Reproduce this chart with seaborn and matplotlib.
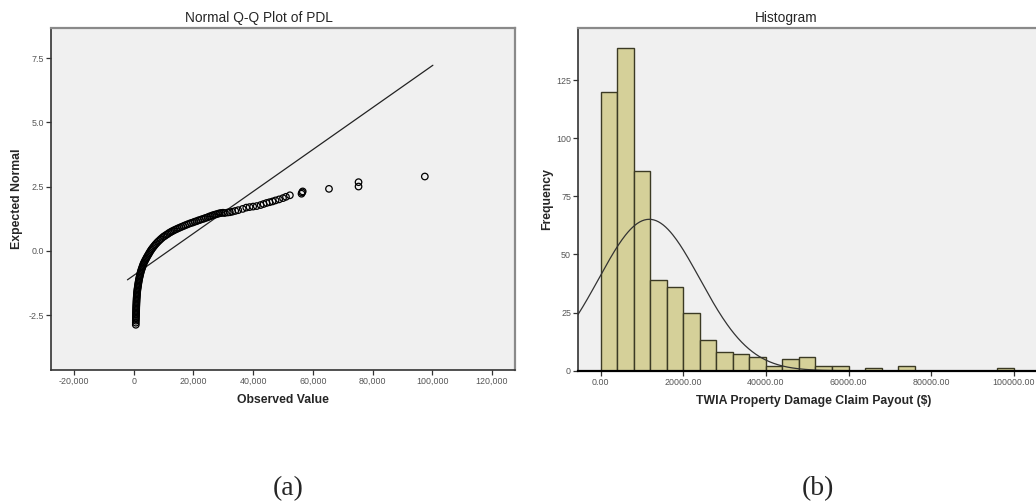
import numpy as np
import pandas as pd
import matplotlib
matplotlib.use("Agg")
import matplotlib.pyplot as plt
from matplotlib.ticker import FuncFormatter, FixedLocator
import seaborn as sns

# ---------------- data ----------------
# Q-Q plot: observed value vs expected normal value
qq_observed = [700, 710, 720, 730, 740, 750, 760, 780, 790, 800, 820, 830, 840, 860, 880,
               900, 920, 940, 960, 990, 1020, 1050, 1080, 1120, 1160, 1200, 1260, 1320,
               1380, 1450, 1510, 1580, 1650, 1730, 1810, 1900, 2000, 2100, 2200, 2300, 2420,
               2550, 2700, 2850, 3000, 3150, 3320, 3500, 3720, 3950, 4170, 4400, 4650, 4900,
               5150, 5400, 5680, 5950, 6270, 6600, 6950, 7300, 7700, 8100, 8550, 9000, 9500,
               10000, 10450, 10900, 11350, 11800, 12250, 12700, 13200, 13700, 14250, 14800,
               15400, 16000, 16600, 17200, 17850, 18500, 19150, 19800, 20400, 21000, 21600,
               22200, 22850, 23500, 24100, 24700, 25250, 25800, 26400, 27000, 27600, 28200,
               28750, 29300, 29900, 30500, 31500, 32200, 33000, 34000, 35000, 36500, 37700,
               38800, 40000, 41200, 42500, 43500, 44500, 45500, 46500, 47500, 48700, 50000,
               51000, 52300, 56200, 56400, 56600, 65400, 75300, 75300, 97500]
qq_expected = [-2.88, -2.80, -2.72, -2.66, -2.60, -2.55, -2.50, -2.45, -2.40, -2.35, -2.30,
               -2.25, -2.20, -2.15, -2.10, -2.05, -2.00, -1.95, -1.90, -1.85, -1.80, -1.75,
               -1.70, -1.65, -1.60, -1.55, -1.50, -1.45, -1.40, -1.35, -1.30, -1.25, -1.20,
               -1.15, -1.10, -1.05, -1.00, -0.95, -0.90, -0.85, -0.80, -0.75, -0.70, -0.65,
               -0.60, -0.55, -0.50, -0.45, -0.40, -0.35, -0.30, -0.25, -0.20, -0.15, -0.10,
               -0.05, 0.00, 0.05, 0.10, 0.15, 0.20, 0.25, 0.30, 0.35, 0.40, 0.45, 0.50, 0.55,
               0.58, 0.62, 0.65, 0.69, 0.72, 0.75, 0.78, 0.81, 0.84, 0.87, 0.90, 0.93, 0.96,
               0.99, 1.02, 1.05, 1.08, 1.10, 1.13, 1.15, 1.18, 1.20, 1.23, 1.25, 1.28, 1.30,
               1.33, 1.35, 1.38, 1.40, 1.42, 1.44, 1.46, 1.47, 1.48, 1.47, 1.49, 1.50, 1.52,
               1.55, 1.58, 1.63, 1.68, 1.70, 1.72, 1.74, 1.78, 1.82, 1.86, 1.89, 1.92, 1.96,
               2.00, 2.05, 2.10, 2.16, 2.22, 2.27, 2.31, 2.41, 2.50, 2.67, 2.89]
qq_line_x = [-2100, 100200]          # extent of the reference line
sample_mean = 11750                  # mean / sd of the payouts
sample_sd = 12250

# Histogram: bin left edges (width 4000) and frequencies
bin_width = 4000
bin_left = [0, 4000, 8000, 12000, 16000, 20000, 24000, 28000, 32000, 36000, 40000, 44000,
            48000, 52000, 56000, 60000, 64000, 68000, 72000, 76000, 80000, 84000, 88000,
            92000, 96000]
bin_count = [120, 139, 86, 39, 36, 25, 13, 8, 7, 6, 2, 5, 6, 2, 2, 0, 1, 0, 2, 0, 0, 0, 0, 0, 1]

qq_xticks = [-20000, 0, 20000, 40000, 60000, 80000, 100000, 120000]
qq_yticks = [-2.5, 0.0, 2.5, 5.0, 7.5]
hist_xticks = [0, 20000, 40000, 60000, 80000, 100000]
hist_yticks = [0, 25, 50, 75, 100, 125]

# ---------------- style ----------------
sns.set_theme(style="ticks")
plt.rcParams["font.family"] = ["Liberation Sans", "DejaVu Sans"]

W, H = 1036, 504
fig = plt.figure(figsize=(W / 100, H / 100), dpi=100)
fig.patch.set_facecolor("white")

bg = "#F0F0F0"
tick_kw = dict(labelsize=6.4, length=3.5, width=0.9, colors="#333333", pad=1.5)


def style_axes(ax):
    ax.set_facecolor(bg)
    for s in ["top", "right"]:
        ax.spines[s].set_color("#8a8a8a")
        ax.spines[s].set_linewidth(1.6)
    for s in ["left", "bottom"]:
        ax.spines[s].set_color("#333333")
        ax.spines[s].set_linewidth(1.2)
    ax.tick_params(axis="both", direction="out", **tick_kw)
    for lab in ax.get_xticklabels() + ax.get_yticklabels():
        lab.set_color("#555555")


# ---------------- (a) Q-Q plot ----------------
ax1 = fig.add_axes([51 / W, 1 - 370 / H, (515 - 51) / W, (370 - 28) / H])
qq_df = pd.DataFrame({"Observed": qq_observed, "Expected": qq_expected})
sns.scatterplot(data=qq_df, x="Observed", y="Expected", ax=ax1, marker="o", s=22,
                facecolors="none", edgecolors="black", linewidth=0.9, zorder=3)
lx = np.array(qq_line_x, dtype=float)
line_df = pd.DataFrame({"x": lx, "y": (lx - sample_mean) / sample_sd})
sns.lineplot(data=line_df, x="x", y="y", ax=ax1, color="#222222", linewidth=0.9, zorder=2)
ax1.set_xlim(-27700, 127700)
ax1.set_ylim(-4.64, 8.67)
ax1.xaxis.set_major_locator(FixedLocator(qq_xticks))
ax1.yaxis.set_major_locator(FixedLocator(qq_yticks))
ax1.xaxis.set_major_formatter(FuncFormatter(lambda v, p: f"{v:,.0f}"))
ax1.yaxis.set_major_formatter(FuncFormatter(lambda v, p: f"{v:.1f}"))
ax1.set_xlabel("Observed Value", fontsize=8.8, fontweight="bold", labelpad=6)
ax1.set_ylabel("Expected Normal", fontsize=8.8, fontweight="bold", labelpad=4)
style_axes(ax1)
fig.text(258.5 / W, 1 - 18 / H, "Normal Q-Q Plot of PDL", ha="center", va="center",
         fontsize=9.9)

# ---------------- (b) Histogram ----------------
x0_px, x1_px = 578, 1050
ax2 = fig.add_axes([x0_px / W, 1 - 370.7 / H, (x1_px - x0_px) / W, (370.7 - 28.3) / H])
hist_df = pd.DataFrame({"mid": [b + bin_width / 2 for b in bin_left], "count": bin_count})
edges = list(bin_left) + [bin_left[-1] + bin_width]
sns.histplot(data=hist_df, x="mid", weights="count", bins=edges, ax=ax2,
             color="#D5D099", edgecolor="#3b3a24", linewidth=1.0, alpha=1.0, zorder=2)
n_total = sum(bin_count)
xs = np.linspace(-5500, 109000, 400)
curve_df = pd.DataFrame({
    "x": xs,
    "y": n_total * bin_width / (sample_sd * np.sqrt(2 * np.pi))
    * np.exp(-0.5 * ((xs - sample_mean) / sample_sd) ** 2),
})
sns.lineplot(data=curve_df, x="x", y="y", ax=ax2, color="#333333", linewidth=0.9, zorder=3)
px_per_unit = 82.6 / 20000
left_val = -5500
ax2.set_xlim(left_val, left_val + (x1_px - x0_px) / px_per_unit)
ax2.set_ylim(0, 147.3)
ax2.xaxis.set_major_locator(FixedLocator(hist_xticks))
ax2.yaxis.set_major_locator(FixedLocator(hist_yticks))
ax2.xaxis.set_major_formatter(FuncFormatter(lambda v, p: f"{v:.2f}"))
ax2.yaxis.set_major_formatter(FuncFormatter(lambda v, p: f"{v:.0f}"))
ax2.set_xlabel("TWIA Property Damage Claim Payout ($)", fontsize=8.8, fontweight="bold",
               labelpad=6)
ax2.set_ylabel("Frequency", fontsize=8.8, fontweight="bold", labelpad=2)
style_axes(ax2)
ax2.spines["bottom"].set_color("black")
ax2.spines["bottom"].set_linewidth(1.6)
ax2.spines["bottom"].set_zorder(4)
fig.text(786 / W, 1 - 18 / H, "Histogram", ha="center", va="center", fontsize=9.9)

# ---------------- captions ----------------
fig.text(288 / W, 1 - 489 / H, "(a)", ha="center", va="center", fontsize=20,
         family="Liberation Serif")
fig.text(818 / W, 1 - 489 / H, "(b)", ha="center", va="center", fontsize=20,
         family="Liberation Serif")

fig.savefig("out.png", dpi=100)
